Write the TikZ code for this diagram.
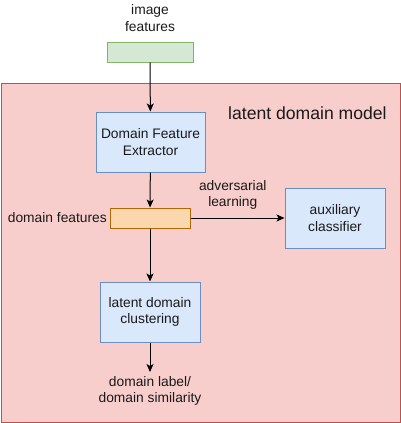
\documentclass[tikz,border=0pt]{standalone}
\usepackage{fontspec}
\setmainfont{Liberation Sans}
\usetikzlibrary{arrows.meta}
\definecolor{gfill}{HTML}{D5E8D4}\definecolor{gline}{HTML}{82B366}
\definecolor{bfill}{HTML}{DAE8FC}\definecolor{bline}{HTML}{6C8EBF}
\definecolor{ofill}{HTML}{FAD7AC}\definecolor{oline}{HTML}{B46504}
\definecolor{rfill}{HTML}{F8CECC}\definecolor{rline}{HTML}{B85450}
\definecolor{txt}{HTML}{1A1A1A}
\begin{document}
\begin{tikzpicture}[x=1pt,y=-1pt,
  box/.style={draw=bline,fill=bfill,line width=1pt,minimum width=#1,minimum height=60pt,align=center,inner sep=0pt,font=\fontsize{13.8pt}{16.5pt}\selectfont,text=txt},
  lbl/.style={align=center,inner sep=0pt,font=\fontsize{13.8pt}{16.5pt}\selectfont,text=txt},
  arr/.style={-{Stealth[length=8pt,width=7pt,inset=2pt]},line width=1pt}]
\useasboundingbox (0,0) rectangle (401,423);
\node[draw=rline,fill=rfill,line width=1pt,minimum width=399pt,minimum height=339pt,inner sep=0pt,anchor=north west] (model) at (0.5,83) {};
\node[lbl,font=\fontsize{17.6pt}{20pt}\selectfont,anchor=west] (mtitle) at (228,113) {latent domain model};
\node[lbl] (imgtxt) at (150,18) {image\\features};
\node[draw=gline,fill=gfill,line width=1pt,minimum width=86pt,minimum height=20pt,inner sep=0pt] (img) at (150,52) {};
\node[box=109pt] (dfe) at (150.5,142) {Domain Feature\\Extractor};
\node[draw=oline,fill=ofill,line width=1pt,minimum width=80pt,minimum height=20pt,inner sep=0pt] (df) at (150,218) {};
\node[lbl,anchor=east] (dftxt) at (107,218) {domain features};
\node[box=100pt] (aux) at (335,218) {auxiliary\\classifier};
\node[box=100pt] (ldc) at (150,312) {latent domain\\clustering};
\coordinate (out) at (150,372);
\node[lbl] (outtxt) at (150,391) {domain label/\\domain similarity};
\draw[arr] (img) -- (dfe);
\draw[arr] (dfe) -- (df);
\draw[arr] (df) -- node[lbl,above=8pt,pos=0.45] (advtxt) {adversarial\\learning} (aux);
\draw[arr] (df) -- (ldc);
\draw[arr] (ldc) -- (out);
\end{tikzpicture}
\end{document}
